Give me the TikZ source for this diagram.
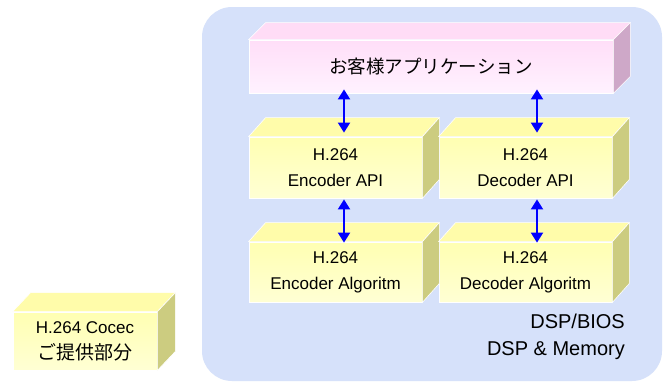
\documentclass[tikz,border=0pt]{standalone}
\usepackage{fontspec}
\setmainfont{Liberation Sans}
\newfontfamily\jpfont{Noto Sans CJK JP}
\usetikzlibrary{arrows.meta,calc}
\definecolor{bgblue}{RGB}{214,225,250}
\definecolor{pinkT}{RGB}{255,222,248}
\definecolor{pinkB}{RGB}{255,242,255}
\definecolor{pinkTop}{RGB}{255,220,246}
\definecolor{pinkSide}{RGB}{206,168,200}
\definecolor{yelT}{RGB}{255,255,178}
\definecolor{yelB}{RGB}{255,255,212}
\definecolor{yelTop}{RGB}{255,252,170}
\definecolor{yelSide}{RGB}{204,204,128}
\definecolor{arrowblue}{RGB}{0,0,255}
\newcommand\cubefaces[5]{%
  \fill[#4, draw=white, line width=0.6pt] (#1.north west) -- ++(#2,-#3) -- ($(#1.north east)+(#2,-#3)$) -- (#1.north east) -- cycle;
  \fill[#5, draw=white, line width=0.6pt] (#1.north east) -- ++(#2,-#3) -- ($(#1.south east)+(#2,-#3)$) -- (#1.south east) -- cycle;}
\begin{document}
\begin{tikzpicture}[x=1pt,y=-1pt,
  front/.style={draw=white, line width=0.8pt, inner sep=0pt, align=center,
    font=\fontsize{17}{26}\selectfont},
  yfront/.style={front, top color=yelT, bottom color=yelB},
  pfront/.style={front, top color=pinkT, bottom color=pinkB},
  biarrow/.style={draw=arrowblue, line width=2pt,
    {Triangle[width=12pt,length=10pt]}-{Triangle[width=12pt,length=10pt]}},
  label/.style={align=right, inner sep=0pt, font=\fontsize{20}{27}\selectfont}]
\useasboundingbox (0,0) rectangle (666,383);
\fill[white] (0,0) rectangle (666,383);
\fill[bgblue, rounded corners=30pt] (202,7) rectangle (662,381);

\node[pfront, minimum width=364pt, minimum height=53pt] (app) at (431,66.5)
  {\jpfont\fontsize{18.5}{20}\selectfont お客様アプリケーション};
\node[yfront, minimum width=173pt, minimum height=61pt] (encapi) at (335.5,167.5)
  {H.264\\Encoder API};
\node[yfront, minimum width=173pt, minimum height=61pt] (decapi) at (525.5,167.5)
  {H.264\\Decoder API};
\node[yfront, minimum width=173pt, minimum height=60pt] (encalg) at (335.5,272)
  {H.264\\Encoder Algoritm};
\node[yfront, minimum width=173pt, minimum height=60pt] (decalg) at (525.5,272)
  {H.264\\Decoder Algoritm};
\node[yfront, minimum width=144pt, minimum height=58pt] (codec) at (85,341)
  {H.264 Cocec\\{\jpfont\fontsize{19}{26}\selectfont ご提供部分}};

\cubefaces{app}{17}{17}{pinkTop}{pinkSide}
\cubefaces{encapi}{17}{19}{yelTop}{yelSide}
\cubefaces{decapi}{17}{19}{yelTop}{yelSide}
\cubefaces{encalg}{17}{19}{yelTop}{yelSide}
\cubefaces{decalg}{17}{19}{yelTop}{yelSide}
\cubefaces{codec}{18}{19}{yelTop}{yelSide}

\draw[biarrow] ([xshift=8.5pt,yshift=4pt]app.south -| encapi.north) -- ([xshift=8.5pt,yshift=4pt]encapi.north);
\draw[biarrow] ([xshift=11.5pt,yshift=4pt]app.south -| decapi.north) -- ([xshift=11.5pt,yshift=4pt]decapi.north);
\draw[biarrow] ([xshift=8.5pt,yshift=-1pt]encapi.south) -- ([xshift=8.5pt,yshift=-1pt]encalg.north);
\draw[biarrow] ([xshift=11.5pt,yshift=-1pt]decapi.south) -- ([xshift=11.5pt,yshift=-1pt]decalg.north);

\node[label, anchor=east] (dsp) at (625,336.5) {DSP/BIOS\\DSP \& Memory};
\end{tikzpicture}
\end{document}
